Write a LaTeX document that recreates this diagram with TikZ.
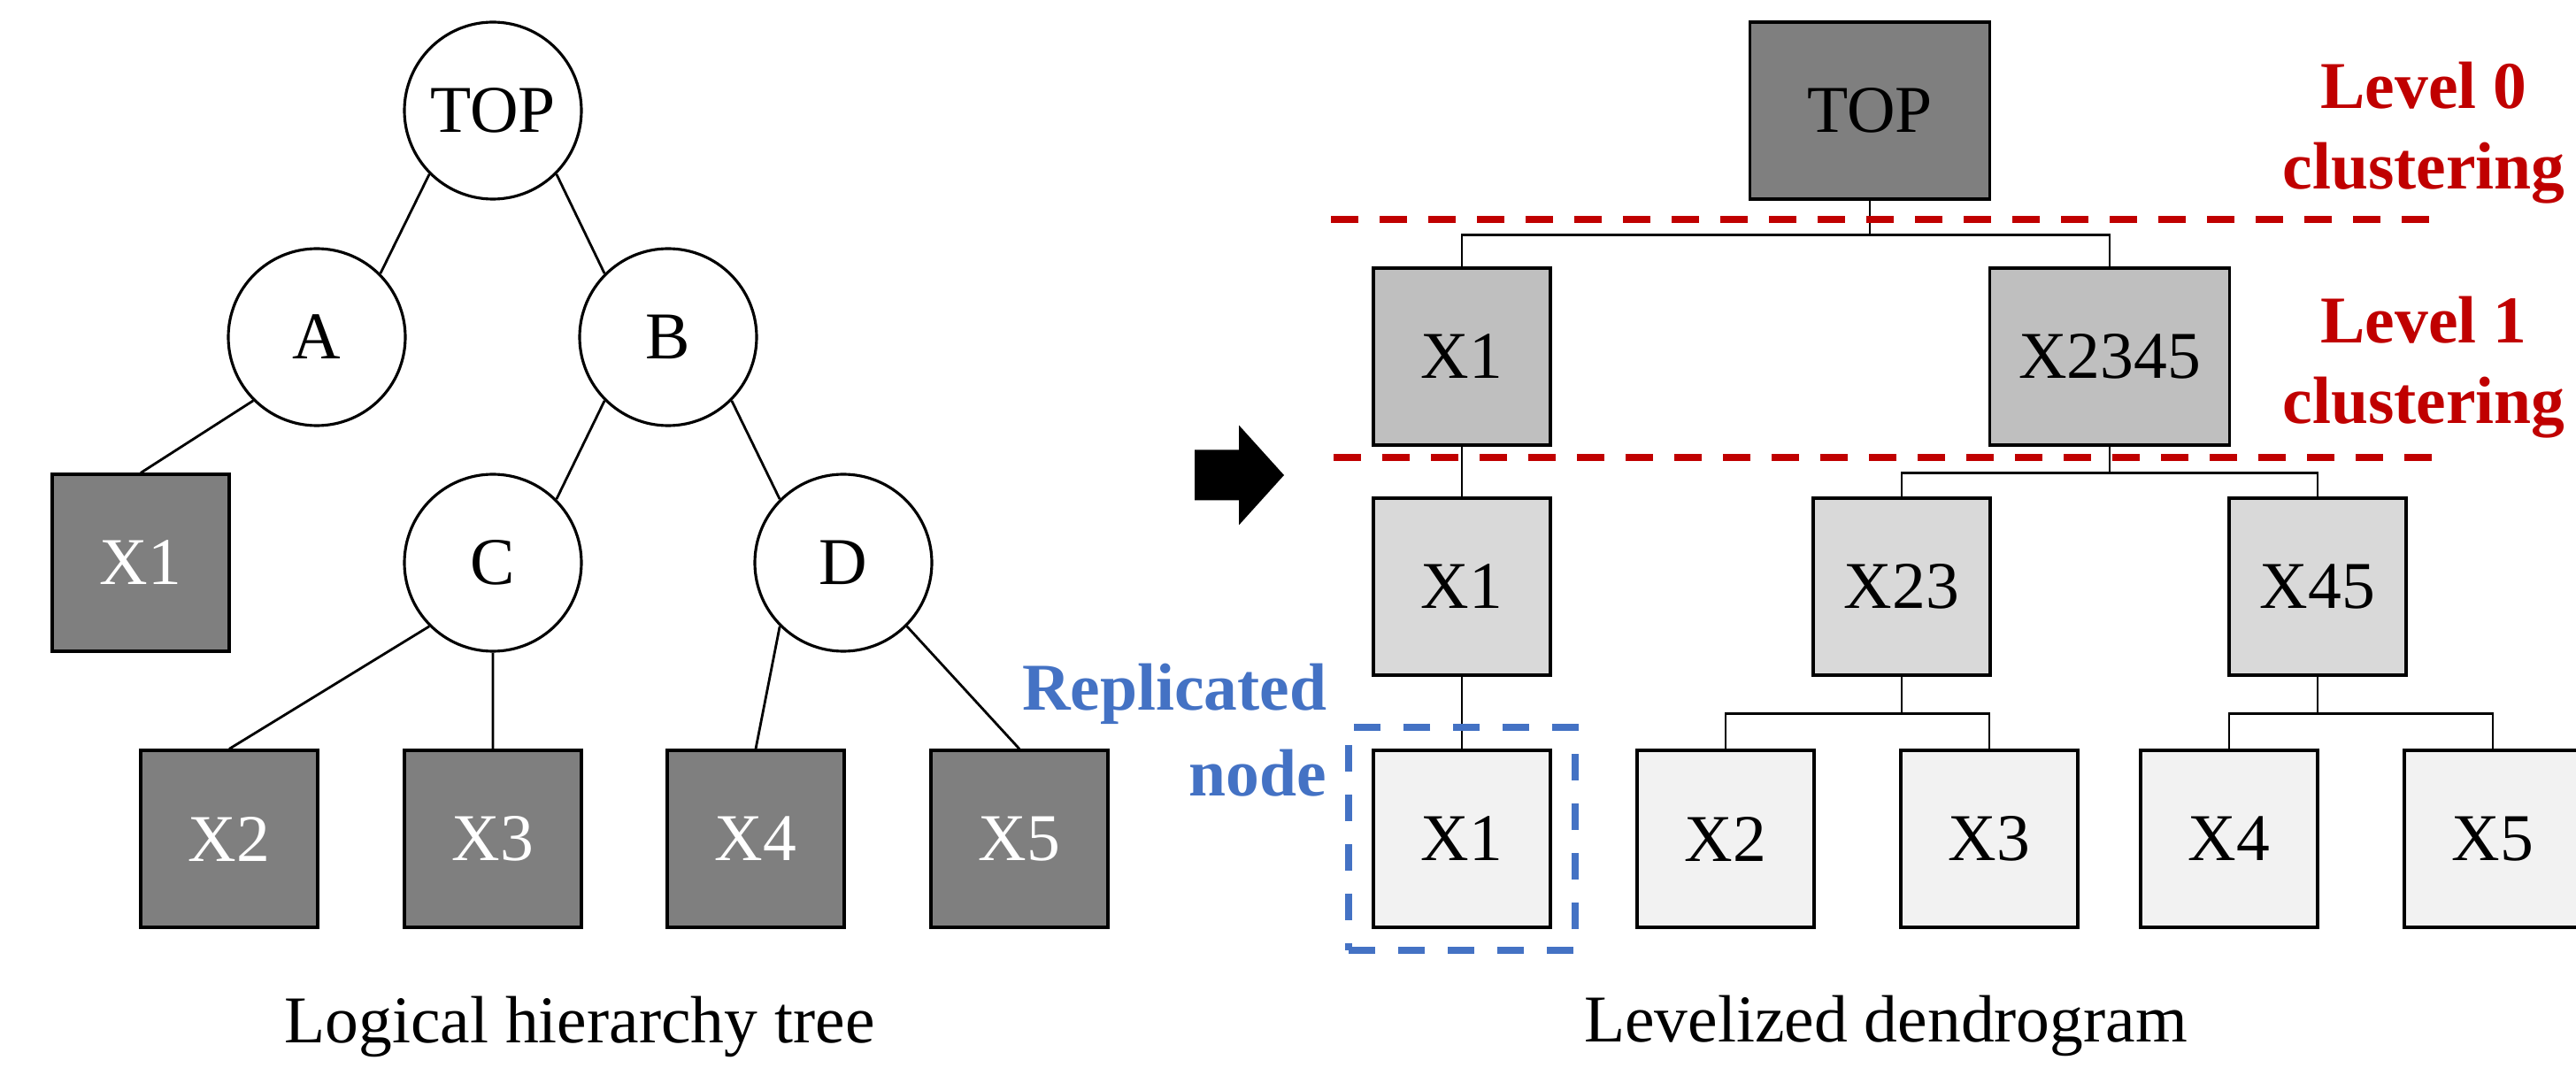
\documentclass[tikz,border=0pt]{standalone}
\usepackage{fontspec}
\setmainfont{Liberation Serif}
\usetikzlibrary{positioning}
\definecolor{darkbox}{HTML}{7F7F7F}
\definecolor{lvlone}{HTML}{BFBFBF}
\definecolor{lvltwo}{HTML}{D9D9D9}
\definecolor{lvlthree}{HTML}{F2F2F2}
\definecolor{cutred}{HTML}{C00000}
\definecolor{repblue}{HTML}{4472C4}

\begin{document}
\begin{tikzpicture}[
  every node/.style={font=\fontsize{21.5}{26}\selectfont},
  tnode/.style={circle,draw,line width=0.9pt,minimum size=2cm,inner sep=0pt},
  leaf/.style={draw,line width=0.9pt,fill=darkbox,text=white,minimum size=2cm,inner sep=0pt},
  dbox/.style={draw,line width=0.9pt,minimum width=2cm,minimum height=2cm,inner sep=0pt},
  link/.style={line width=0.8pt},
  cut/.style={cutred,line width=2.2pt,dash pattern=on 0.31cm off 0.24cm},
  lbl/.style={cutred,font=\fontsize{21.5}{26}\selectfont\bfseries,align=center,inner sep=0pt},
  rep/.style={repblue,font=\fontsize{21.5}{27.5}\selectfont\bfseries,align=right,inner sep=0pt}
]
\useasboundingbox (0,0) rectangle (29.11,-12.07);

\node[tnode] (top) at (5.57,-1.25) {TOP};
\node[tnode] (a) at (3.58,-3.81) {A};
\node[tnode] (b) at (7.55,-3.81) {B};
\node[tnode] (c) at (5.57,-6.36) {C};
\node[tnode] (d) at (9.53,-6.36) {D};
\node[leaf] (x1) at (1.59,-6.36) {X1};
\foreach \t[count=\i from 2] in {2.59,5.57,8.54,11.52}
  \node[leaf] (x\i) at (\t,-9.48) {X\i};
\draw[link] (top.225) -- (a.45) (top.-45) -- (b.135) (a.225) -- (x1.north)
  (b.225) -- (c.45) (b.-45) -- (d.135)
  (c.225) -- (x2.north) (c) -- (x3.north) (d.225) -- (x4.north) (d.-45) -- (x5.north);
\node (lcap) at (6.55,-11.6) {Logical hierarchy tree};

\coordinate (arr) at (13.5,-5.37);
\fill (arr) ++(0,0.285) -- ++(0.5,0) -- ++(0,0.28) -- ++(0.51,-0.565)
  -- ++(-0.51,-0.565) -- ++(0,0.28) -- ++(-0.5,0) -- cycle;

\node[dbox,fill=darkbox,minimum width=2.71cm] (rtop) at (21.13,-1.25) {TOP};
\node[dbox,fill=lvlone] (ra) at (16.52,-4.03) {X1};
\node[dbox,fill=lvlone,minimum width=2.71cm] (rb) at (23.84,-4.03) {X2345};
\node[dbox,fill=lvltwo] (rc) at (16.52,-6.63) {X1};
\node[dbox,fill=lvltwo] (rd) at (21.49,-6.63) {X23};
\node[dbox,fill=lvltwo] (re) at (26.19,-6.63) {X45};
\node[dbox,fill=lvlthree] (r1) at (16.52,-9.48) {X1};
\foreach \t[count=\i from 2] in {19.50,22.48,25.19,28.17}
  \node[dbox,fill=lvlthree] (r\i) at (\t,-9.48) {X\i};
\draw[link] (rtop.south) -- ++(0,-0.39) -| (ra.north) (rtop.south) ++(0,-0.39) -| (rb.north)
  (rb.south) -- ++(0,-0.3) -| (rd.north) (rb.south) ++(0,-0.3) -| (re.north)
  (rd.south) -- ++(0,-0.42) -| (r2.north) (rd.south) ++(0,-0.42) -| (r3.north)
  (re.south) -- ++(0,-0.42) -| (r4.north) (re.south) ++(0,-0.42) -| (r5.north)
  (ra) -- (rc) (rc) -- (r1);

\draw[cut] (15.04,-2.48) -- (27.52,-2.48);
\draw[cut] (15.07,-5.17) -- (27.54,-5.17);
\node[lbl] (lv0) at (27.39,-1.5) {Level 0\\clustering};
\node[lbl] (lv1) at (27.39,-4.15) {Level 1\\clustering};

\node[draw=repblue,line width=2pt,dash pattern=on 0.3cm off 0.26cm,minimum width=2.56cm,minimum height=2.52cm] (repbox) at (r1) {};
\node[rep,anchor=east] (replbl) at (15.0,-8.25) {Replicated\\node};
\node (rcap) at (21.31,-11.59) {Levelized dendrogram};
\end{tikzpicture}
\end{document}
